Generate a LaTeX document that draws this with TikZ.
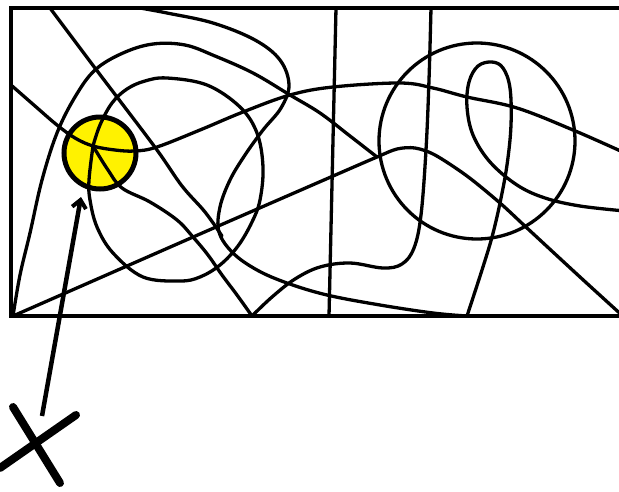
\documentclass[tikz,border=0pt]{standalone}
\usetikzlibrary{arrows.meta}
\begin{document}
\begin{tikzpicture}[x=1pt,y=-1pt,
  doodle/.style={line width=3.3pt, line cap=round, line join=round},
  framestyle/.style={line width=3.5pt},
  sm/.style={smooth, tension=0.6}]
\useasboundingbox (0,0) rectangle (619,491);
% yellow dot fill
\fill[yellow] (100,153) circle (36);
% frame
\draw[framestyle] (625,8) -- (11,8) -- (11,316) -- (625,316);
% vertical line 1
\draw[doodle] (336,8) -- (329,316);
% vertical line 2 bending to the bottom
\draw[doodle] plot[sm] coordinates {(431,8) (429,80) (426,150) (421,215) (414,248) (402,264) (383,268) (350,263) (320,267) (295,279) (272,297) (252,316)};
% line from top going down
\draw[doodle] plot[sm] coordinates {(50,8) (95,68) (117,97) (157,150) (182,186) (205,212) (222,236)};
% top curve continuing into the loop
\draw[doodle] plot[sm] coordinates {(140,8) (167,13) (213,23) (255,40) (280,60) (289,85) (281,108) (263,130) (245,155) (230,180) (220,207) (219,232) (233,253) (257,270) (287,283) (327,295) (380,305) (433,313) (467,316)};
\draw[doodle] plot[sm] coordinates {(467,316) (482,270) (492,237) (500,203) (507,165) (511,125) (510,88) (503,68) (492,62) (478,66) (469,82) (467,107) (473,135) (490,162) (517,185) (545,198) (580,206) (625,211)};
% big arc from bottom-left corner
\draw[doodle] plot[sm] coordinates {(13,316) (20,275) (30,233) (42,180) (57,133) (75,97) (95,70) (123,53) (153,44) (185,45) (215,56) (253,73) (290,95) (320,113) (350,136) (377,157)};
% rising line with bump
\draw[doodle] plot[smooth, tension=0.5] coordinates {(13,316) (200,234) (340,173) (377,157) (397,149) (415,148) (435,155) (467,176) (500,203) (527,228) (580,277) (625,318)};
% left edge line through the dot to the right
\draw[doodle] plot[sm] coordinates {(11,85) (35,106) (57,125) (75,138) (93,146) (115,150) (135,151) (157,147) (200,130) (243,112) (290,95) (333,87) (400,83) (433,88) (467,97) (517,108) (573,130) (625,153)};
% line from the dot to the bottom
\draw[doodle] plot[sm] coordinates {(93,146) (108,170) (122,188) (150,202) (177,220) (193,237) (208,255) (222,275) (237,295) (252,316)};
% inner loop
\draw[doodle] plot[sm] coordinates {(93,146) (100,125) (112,103) (127,89) (145,81) (167,78) (207,85) (240,107) (257,133) (263,167) (260,200) (252,222) (238,246) (220,265) (200,277) (180,281) (143,277) (113,253) (97,227) (90,200) (89,180) (93,146)};
% big circle on the right
\draw[doodle] (477,141) circle (98);
% yellow dot outline
\draw[line width=5pt] (100,153) circle (36);
% arrow
\draw[line width=4.5pt, -{Straight Barb[length=8pt,width=14pt,line width=4pt]}] (42,416) -- (81,197);
% X mark
\draw[line width=8pt, line cap=round] (13,407) -- (60,483);
\draw[line width=8pt, line cap=round] (76,415) -- (0,468);
\end{tikzpicture}
\end{document}
